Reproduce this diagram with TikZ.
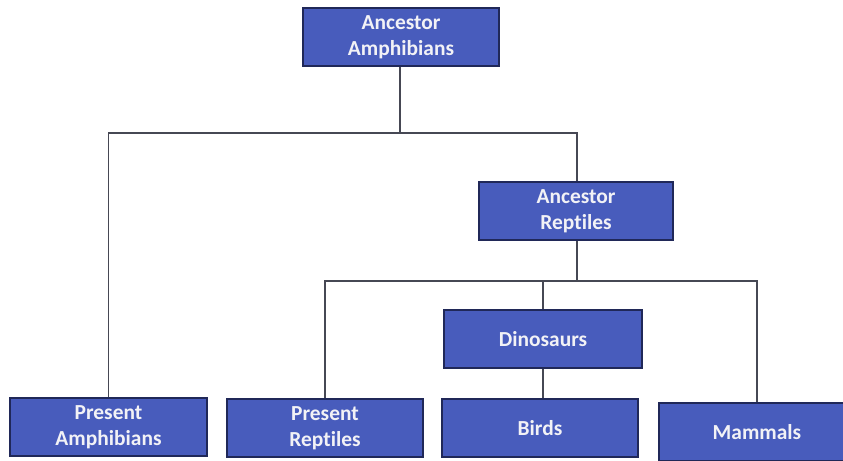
\documentclass[tikz,border=0pt]{standalone}
\usepackage{fontspec}
\setmainfont{Carlito}[Ligatures={NoCommon}]
\begin{document}
\begin{tikzpicture}[x=1bp,y=-1bp,
  taxon/.style={draw=boxedge, line width=1.1bp, fill=boxfill, text=boxtext,
    minimum width=196bp, minimum height=58bp, inner sep=0pt, align=center,
    font=\fontsize{21.5}{26}\selectfont\bfseries},
  branch/.style={draw=linegray, line width=1.4bp}]
\definecolor{boxfill}{RGB}{72,92,188}
\definecolor{boxedge}{RGB}{32,40,88}
\definecolor{boxtext}{RGB}{242,242,246}
\definecolor{linegray}{RGB}{70,72,84}
\useasboundingbox (0,0) rectangle (843,461);
\clip (0,0) rectangle (843,461);

% taxa
\node[taxon] (ancamph) at (401,37) {Ancestor\\Amphibians};
\node[taxon, minimum width=194bp] (ancrep) at (576,211) {Ancestor\\Reptiles};
\node[taxon, minimum width=198bp] (dino) at (543,339) {Dinosaurs};
\node[taxon, minimum width=197bp] (presamph) at (108.5,427) {Present\\Amphibians};
\node[taxon] (presrep) at (325,428) {Present\\Reptiles};
\node[taxon] (birds) at (540,428) {Birds};
\node[taxon] (mammals) at (757,432) {Mammals};

% junction points of the tree
\coordinate (j1) at (400,133);
\coordinate (j2) at (577,281);

% branches
\draw[branch] (ancamph.south -| j1) -- (j1);
\draw[branch] (j1) -| (presamph.north);
\draw[branch] (j1) -| (ancrep.north -| j2);
\draw[branch] (ancrep.south -| j2) -- (j2);
\draw[branch] (j2) -| (presrep.north);
\draw[branch] (j2) -| (dino.north);
\draw[branch] (j2) -| (mammals.north);
\draw[branch] (dino.south) -- (birds.north -| dino.south);
\end{tikzpicture}
\end{document}
